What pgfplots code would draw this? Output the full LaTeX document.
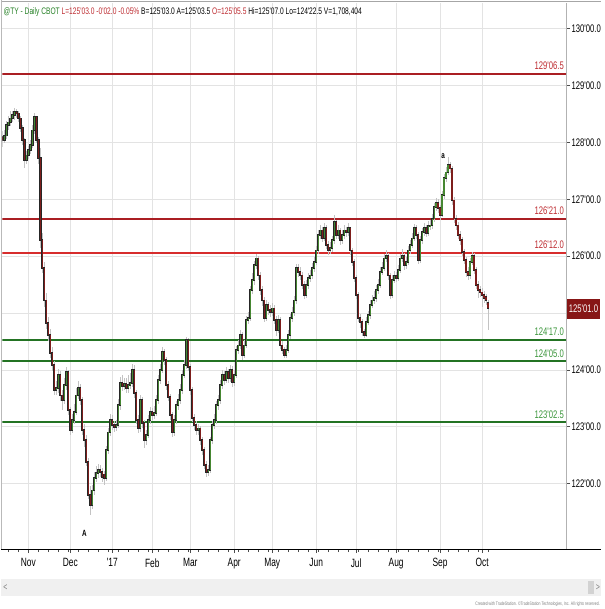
\documentclass[border=0pt]{standalone}
\usepackage{pgfplots}
\pgfplotsset{compat=1.18}
\usepackage{pgfplotstable}
\usepackage{fontspec}
\setmainfont{Liberation Sans}
\newfontfamily\narrow{Liberation Sans}[FakeStretch=0.7]

\definecolor{upc}{RGB}{70,135,50}
\definecolor{dnc}{RGB}{125,30,28}
\definecolor{wickc}{RGB}{195,195,195}
\definecolor{lvred}{RGB}{170,30,35}
\definecolor{lvred2}{RGB}{215,45,45}
\definecolor{lvgreen}{RGB}{35,115,35}
\definecolor{lblred}{RGB}{190,45,50}
\definecolor{lblgreen}{RGB}{60,150,60}
\definecolor{boxred}{RGB}{135,22,22}
\definecolor{hgreen}{RGB}{40,130,40}

% daily bars, index = trading day from mid Oct 2016
\pgfplotstableread{
i o h l c
1 128.04 128.22 127.98 128.12
2 128.12 128.38 128.06 128.30
3 128.30 128.47 128.22 128.35
4 128.35 128.55 128.28 128.42
5 128.42 128.56 128.36 128.48
6 128.48 128.60 128.40 128.53
12 127.69 127.84 127.62 127.77
13 127.77 127.94 127.70 127.86
14 127.86 128.05 127.80 127.95
15 127.95 128.30 127.90 128.21
16 128.21 128.52 128.15 128.44
27 123.64 123.80 123.55 123.68
28 123.68 124.02 123.60 123.91
31 123.47 123.85 123.40 123.73
32 123.73 124.05 123.65 123.96
35 122.94 123.22 122.88 123.12
36 123.12 123.40 123.05 123.26
37 123.26 123.68 123.20 123.55
38 123.55 123.80 123.48 123.68
45 121.62 121.98 121.55 121.88
46 121.88 122.20 121.80 122.10
47 122.10 122.30 122.02 122.18
48 122.18 122.35 122.10 122.24
52 122.10 122.66 122.05 122.59
53 122.59 122.98 122.52 122.90
54 122.90 123.22 122.84 123.12
57 122.99 123.12 122.92 123.03
58 123.03 123.48 122.98 123.38
59 123.38 123.88 123.30 123.77
61 123.71 123.86 123.64 123.75
63 123.68 123.90 123.60 123.73
64 123.73 123.95 123.66 123.77
65 123.77 124.10 123.70 124.00
69 122.97 123.55 122.90 123.47
72 122.76 122.95 122.68 122.85
73 122.85 123.20 122.80 123.12
74 123.12 123.35 123.05 123.26
76 123.20 123.36 123.14 123.24
77 123.24 123.55 123.18 123.47
78 123.47 123.90 123.40 123.82
79 123.82 124.10 123.75 124.00
80 124.00 124.40 123.95 124.31
86 122.90 123.20 122.84 123.12
87 123.12 123.45 123.05 123.38
88 123.38 123.58 123.30 123.47
89 123.47 123.75 123.40 123.64
90 123.64 124.00 123.58 123.91
91 123.91 124.18 123.85 124.08
92 124.08 124.58 124.02 124.52
98 122.94 123.05 122.86 122.97
103 122.20 122.32 122.13 122.24
104 122.24 122.82 122.18 122.76
105 122.76 123.10 122.70 123.03
106 123.03 123.22 122.96 123.12
107 123.12 123.46 123.05 123.38
108 123.38 123.56 123.30 123.47
109 123.47 123.82 123.40 123.73
110 123.73 124.00 123.66 123.91
112 123.82 124.05 123.76 123.96
114 123.85 124.08 123.78 124.00
116 123.78 124.00 123.72 123.91
117 123.91 124.42 123.86 124.35
118 124.35 124.52 124.28 124.43
119 124.43 124.70 124.36 124.61
121 124.26 124.52 124.20 124.43
122 124.43 124.95 124.38 124.87
123 124.87 125.02 124.80 124.91
124 124.91 125.48 124.86 125.40
125 125.40 125.70 125.33 125.58
126 125.58 125.92 125.50 125.84
127 125.84 126.03 125.78 125.96
132 124.91 125.22 124.86 125.14
135 125.01 125.18 124.94 125.08
138 124.70 124.96 124.64 124.87
142 124.26 124.44 124.20 124.35
143 124.35 124.70 124.30 124.61
144 124.61 124.98 124.55 124.91
145 124.91 125.10 124.84 125.01
146 125.01 125.30 124.95 125.22
147 125.22 125.86 125.16 125.79
152 125.31 125.58 125.26 125.49
153 125.49 125.70 125.42 125.61
154 125.61 125.76 125.54 125.66
155 125.66 125.88 125.60 125.79
156 125.79 125.98 125.72 125.89
157 125.89 126.18 125.84 126.10
158 126.10 126.45 126.04 126.37
159 126.37 126.55 126.30 126.45
161 126.31 126.58 126.26 126.49
164 126.10 126.24 126.04 126.14
165 126.14 126.36 126.08 126.28
166 126.28 126.72 126.22 126.60
168 126.37 126.54 126.30 126.45
170 126.28 126.46 126.22 126.37
171 126.37 126.54 126.30 126.45
173 126.42 126.58 126.36 126.49
182 124.61 124.92 124.58 124.84
183 124.84 125.04 124.78 124.96
184 124.96 125.22 124.90 125.14
185 125.14 125.32 125.08 125.22
186 125.22 125.38 125.16 125.26
187 125.26 125.50 125.20 125.40
188 125.40 125.60 125.34 125.49
189 125.49 125.80 125.44 125.72
190 125.72 125.90 125.66 125.79
191 125.79 126.04 125.74 125.96
192 125.96 126.10 125.90 126.01
195 125.31 125.66 125.26 125.58
196 125.58 125.74 125.52 125.65
198 125.61 125.84 125.56 125.75
199 125.75 126.04 125.70 125.96
200 125.96 126.12 125.90 126.01
202 125.84 125.98 125.78 125.89
203 125.89 126.18 125.84 126.10
204 126.10 126.28 126.04 126.19
205 126.19 126.40 126.14 126.31
206 126.31 126.56 126.26 126.49
209 125.93 126.36 125.88 126.28
210 126.28 126.50 126.22 126.42
211 126.42 126.58 126.36 126.49
213 126.41 126.62 126.36 126.53
214 126.53 126.64 126.46 126.54
215 126.54 126.74 126.48 126.66
216 126.66 126.94 126.60 126.86
217 126.86 127.02 126.80 126.93
220 126.72 127.14 126.68 127.07
221 127.07 127.44 127.00 127.37
222 127.37 127.56 127.30 127.47
223 127.47 127.74 127.42 127.60
234 125.66 125.96 125.60 125.89
235 125.89 126.08 125.84 126.01
}\upbars

\pgfplotstableread{
i o h l c
0 128.10 128.20 127.92 128.04
7 128.53 128.58 128.42 128.51
8 128.51 128.56 128.36 128.42
9 128.42 128.46 128.18 128.25
10 128.25 128.30 127.96 128.04
11 128.04 128.08 127.55 127.69
17 128.44 128.47 127.98 128.04
18 128.04 128.10 127.62 127.72
19 127.72 127.90 126.15 126.28
20 126.28 126.40 125.70 125.79
21 125.79 125.90 125.10 125.22
22 125.22 125.35 124.72 124.82
23 124.82 124.92 124.50 124.61
24 124.61 124.72 124.20 124.29
25 124.29 124.40 123.98 124.08
26 124.08 124.15 123.55 123.64
29 123.91 123.98 123.45 123.55
30 123.55 123.65 123.30 123.47
33 123.96 124.00 123.20 123.29
34 123.29 123.35 122.85 122.94
39 123.68 123.75 123.38 123.47
40 123.47 123.52 122.85 122.94
41 122.94 123.05 122.65 122.76
42 122.76 122.85 122.30 122.38
43 122.38 122.45 121.72 121.80
44 121.80 121.95 121.45 121.62
49 122.24 122.32 122.12 122.20
50 122.20 122.28 122.02 122.11
51 122.16 122.22 121.98 122.10
55 123.12 123.20 122.95 123.03
56 123.03 123.10 122.90 122.99
60 123.77 123.90 123.62 123.71
62 123.75 123.85 123.60 123.68
66 124.00 124.08 123.50 123.59
67 123.59 123.65 123.05 123.12
68 123.12 123.20 122.88 122.97
70 123.47 123.52 122.98 123.06
71 123.06 123.12 122.62 122.76
75 123.26 123.32 123.12 123.20
81 124.31 124.36 124.08 124.17
82 124.17 124.22 123.65 123.73
83 123.73 123.80 123.45 123.52
84 123.52 123.58 123.12 123.20
85 123.20 123.26 122.82 122.90
93 124.52 124.56 123.98 124.05
94 124.05 124.10 123.55 123.64
95 123.64 123.70 123.08 123.15
96 123.15 123.22 122.95 123.03
97 123.03 123.10 122.85 122.94
99 122.97 123.02 122.68 122.76
100 122.76 122.82 122.50 122.59
101 122.59 122.65 122.25 122.33
102 122.33 122.40 122.11 122.20
111 123.91 123.98 123.74 123.82
113 123.96 124.02 123.76 123.85
115 124.00 124.06 123.70 123.78
120 124.61 124.66 124.18 124.26
128 125.96 126.00 125.58 125.66
129 125.66 125.72 125.32 125.40
130 125.40 125.48 125.12 125.22
131 125.22 125.28 124.84 124.91
133 125.14 125.20 124.96 125.05
134 125.05 125.14 124.92 125.01
136 125.08 125.14 124.80 124.87
137 124.87 124.94 124.60 124.70
139 124.87 124.92 124.36 124.43
140 124.43 124.50 124.28 124.35
141 124.35 124.40 124.20 124.26
148 125.79 125.86 125.64 125.72
149 125.72 125.80 125.58 125.66
150 125.66 125.72 125.42 125.49
151 125.49 125.56 125.24 125.31
160 126.45 126.52 126.24 126.31
162 126.49 126.54 126.12 126.19
163 126.19 126.26 126.02 126.10
167 126.60 126.64 126.30 126.37
169 126.45 126.50 126.20 126.28
172 126.45 126.52 126.34 126.42
174 126.49 126.52 126.02 126.10
175 126.10 126.14 125.82 125.89
176 125.89 125.94 125.54 125.61
177 125.61 125.66 125.24 125.31
178 125.31 125.36 124.84 124.91
179 124.91 124.98 124.74 124.84
180 124.84 124.90 124.60 124.66
181 124.66 124.72 124.56 124.61
193 126.01 126.06 125.58 125.66
194 125.66 125.70 125.24 125.31
197 125.65 125.72 125.54 125.61
201 126.01 126.06 125.76 125.84
207 126.49 126.54 126.30 126.37
208 126.37 126.42 125.86 125.93
212 126.49 126.55 126.34 126.41
218 126.93 127.00 126.76 126.84
219 126.84 126.90 126.64 126.72
224 127.60 127.66 127.46 127.54
225 127.54 127.58 126.90 126.98
226 126.98 127.04 126.58 126.66
227 126.66 126.72 126.46 126.54
228 126.54 126.60 126.30 126.37
229 126.37 126.44 126.20 126.28
230 126.28 126.34 126.00 126.07
231 126.07 126.12 125.86 125.93
232 125.93 125.98 125.64 125.72
233 125.72 125.80 125.58 125.66
236 126.01 126.06 125.68 125.75
237 125.75 125.80 125.42 125.49
238 125.49 125.56 125.26 125.40
239 125.40 125.48 125.28 125.36
240 125.36 125.44 125.10 125.31
241 125.31 125.38 125.18 125.26
242 125.28 125.34 125.14 125.22
243 125.17 125.22 124.70 125.09
}\dnbars

\pgfplotsset{
  wick/.style={draw=none, forget plot, error bars/.cd, y dir=both, y explicit,
    error mark=none, error bar style={draw=wickc, line width=0.7pt}},
  body/.style 2 args={draw=none, forget plot, error bars/.cd, y dir=both, y explicit,
    error mark=none, error bar style={draw=#1, line width=#2}},
}

\begin{document}
\begin{tikzpicture}[x=1pt,y=1pt]
\fill[white] (0,0) rectangle (600,609);
\begin{axis}[
  at={(1pt,60pt)}, anchor=south west, scale only axis,
  width=564pt, height=546pt,
  xmin=0, xmax=282, ymin=120.848, ymax=130.444,
  axis x line*=bottom, axis y line*=right,
  x axis line style={-, black, line width=0.8pt},
  y axis line style={-, gray!60, line width=0.6pt},
  xtick={13,34,55,75,94,116,135,157,177,197,219,240},
  xticklabels={Nov,Dec,'17,Feb,Mar,Apr,May,Jun,Jul,Aug,Sep,Oct},
  minor xtick={3,8,...,243},
  ytick={122,123,124,125,126,127,128,129,130},
  yticklabels={122'00.0,123'00.0,124'00.0,,126'00.0,127'00.0,128'00.0,129'00.0,130'00.0},
  tick align=outside, major tick length=4pt, minor tick length=3pt,
  tick style={black!70, line width=0.5pt},
  grid=major, major grid style={gray!22, line width=0.6pt},
  xticklabel style={font=\narrow\fontsize{12}{14}\selectfont, yshift=-2pt},
  yticklabel style={font=\narrow\fontsize{11}{13}\selectfont, xshift=-2pt},
]
% support / resistance levels
\draw[lvred, line width=2pt] (axis cs:0,129.203) -- (axis cs:282,129.203);
\draw[lvred, line width=2pt] (axis cs:0,126.656) -- (axis cs:282,126.656);
\draw[lvred2, line width=2pt] (axis cs:0,126.0625) -- (axis cs:282,126.0625);
\draw[lvgreen, line width=2pt] (axis cs:0,124.531) -- (axis cs:282,124.531);
\draw[lvgreen, line width=2pt] (axis cs:0,124.156) -- (axis cs:282,124.156);
\draw[lvgreen, line width=2pt] (axis cs:0,123.078) -- (axis cs:282,123.078);

% wicks
\addplot[wick] table[x=i, y expr={0.5*(\thisrow{h}+\thisrow{l})}, y error expr={0.5*(\thisrow{h}-\thisrow{l})}] {\upbars};
\addplot[wick] table[x=i, y expr={0.5*(\thisrow{h}+\thisrow{l})}, y error expr={0.5*(\thisrow{h}-\thisrow{l})}] {\dnbars};
% bodies: dark outline, then coloured core
\addplot[body={black!85}{2.3pt}] table[x=i, y expr={0.5*(\thisrow{o}+\thisrow{c})}, y error expr={0.5*abs(\thisrow{c}-\thisrow{o})+0.015}] {\upbars};
\addplot[body={black!85}{2.3pt}] table[x=i, y expr={0.5*(\thisrow{o}+\thisrow{c})}, y error expr={0.5*abs(\thisrow{c}-\thisrow{o})+0.015}] {\dnbars};
\addplot[body={upc}{1.2pt}] table[x=i, y expr={0.5*(\thisrow{o}+\thisrow{c})}, y error expr={0.5*abs(\thisrow{c}-\thisrow{o})}] {\upbars};
\addplot[body={dnc}{1.2pt}] table[x=i, y expr={0.5*(\thisrow{o}+\thisrow{c})}, y error expr={0.5*abs(\thisrow{c}-\thisrow{o})}] {\dnbars};

% level labels
\begin{scope}[every node/.style={anchor=south east, inner sep=1pt, font=\narrow\fontsize{11}{13}\selectfont}]
\node[text=lblred] at (axis cs:281.5,129.25) {129'06.5};
\node[text=lblred] at (axis cs:281.5,126.70) {126'21.0};
\node[text=lblred] at (axis cs:281.5,126.11) {126'12.0};
\node[text=lblgreen] at (axis cs:281.5,124.58) {124'17.0};
\node[text=lblgreen] at (axis cs:281.5,124.20) {124'05.0};
\node[text=lblgreen] at (axis cs:281.5,123.12) {123'02.5};
\end{scope}
\node[font=\narrow\fontsize{9}{10}\selectfont\bfseries] at (axis cs:220.5,127.76) {a};
\node[font=\narrow\fontsize{9}{10}\selectfont\bfseries] at (axis cs:41,121.13) {A};
\end{axis}

% frame pieces
\draw[gray!70, line width=1pt] (0,608) -- (600,608);
\draw[gray!55, line width=0.8pt] (0.4,60) -- (0.4,609);
\draw[black, line width=0.8pt] (0,60) -- (600,60);

% header
\node[anchor=west, inner sep=0pt, font=\narrow\fontsize{9.5}{11}\selectfont] at (2,597)
  {\textcolor{hgreen}{@TY - Daily CBOT} \textcolor{lblred}{L=125'03.0 -0'02.0 -0.05\%} B=125'03.0 A=125'03.5 \textcolor{lblred}{O=125'05.5} Hi=125'07.0 Lo=124'22.5 V=1,708,404};

% last price box
\fill[boxred] (566,290) rectangle (599,310);
\node[text=white, font=\narrow\fontsize{11}{13}\selectfont] at (582.5,300) {125'01.0};

% scroll bar and credit line
\fill[gray!12] (0,13) rectangle (600,30);
\fill[gray!35] (587,15) rectangle (593,28);
\node[gray, font=\narrow\fontsize{10}{12}\selectfont] at (4,21.5) {<};
\node[gray, font=\narrow\fontsize{10}{12}\selectfont] at (597,21.5) {>};
\node[anchor=east, inner sep=0pt, text=gray, font=\narrow\fontsize{5}{6}\selectfont] at (599,5)
  {Created with TradeStation. \textcopyright TradeStation Technologies, Inc. All rights reserved.};
\end{tikzpicture}
\end{document}
